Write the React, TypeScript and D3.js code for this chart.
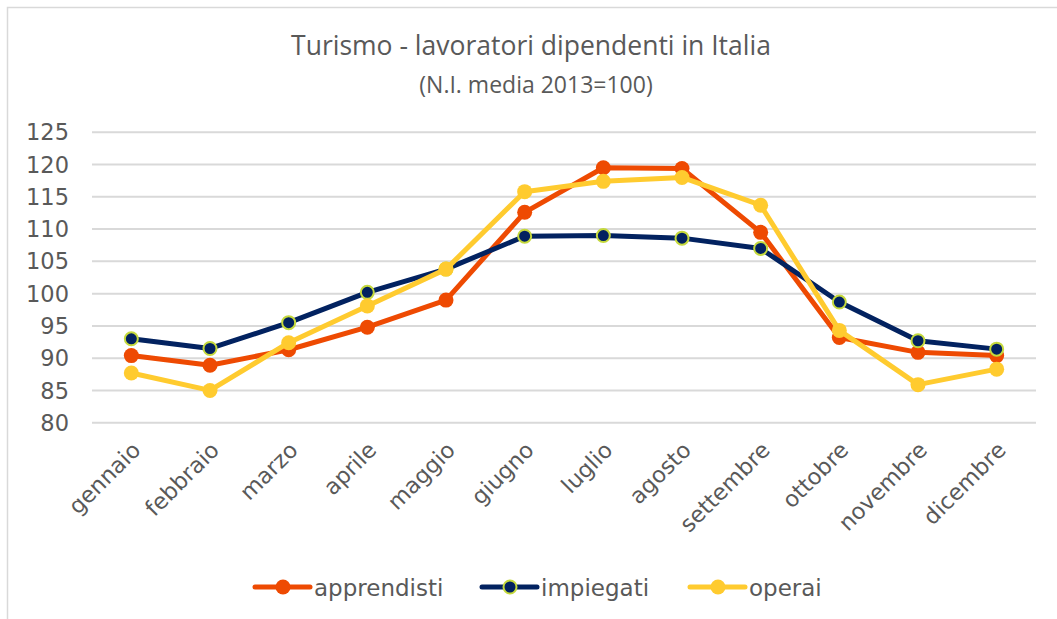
import React from "react";
import * as d3 from "d3";

const months = ["gennaio","febbraio","marzo","aprile","maggio","giugno","luglio","agosto","settembre","ottobre","novembre","dicembre"];
const apprendisti = [90.4, 88.9, 91.3, 94.8, 99.0, 112.6, 119.5, 119.4, 109.5, 93.2, 90.9, 90.4];
const impiegati = [93.0, 91.5, 95.5, 100.2, 103.8, 108.9, 109.0, 108.6, 107.0, 98.7, 92.7, 91.4];
const operai = [87.7, 85.0, 92.4, 98.1, 103.8, 115.8, 117.4, 118.0, 113.7, 94.3, 85.9, 88.3];
const yTicks = [80, 85, 90, 95, 100, 105, 110, 115, 120, 125];

const series = [
  { name: "apprendisti", values: apprendisti, color: "#ee4a02", stroke: "none" },
  { name: "impiegati", values: impiegati, color: "#022260", stroke: "#c5d93c" },
  { name: "operai", values: operai, color: "#ffcb2f", stroke: "none" },
];

export default function App() {
  const W = 1057, H = 619;
  const x = d3.scaleBand().domain(months).range([92, 1036]);
  const y = d3.scaleLinear().domain([80, 125]).range([422.7, 132.3]);
  const cx = (m: string) => (x(m) as number) + x.bandwidth() / 2;
  const line = d3.line<number>().x((_, i) => cx(months[i])).y((v) => y(v));
  const font = "'DejaVu Sans', Verdana, sans-serif";
  const legendItems = [
    { s: series[0], x: 255 },
    { s: series[1], x: 482 },
    { s: series[2], x: 690 },
  ];
  return (
    <svg width={W} height={H} style={{ position: "absolute", left: 0, top: 0, background: "#fff" }}>
      <rect x={7.5} y={7.5} width={1100} height={700} fill="#fff" stroke="#d9d9d9" strokeWidth={1.5} />
      <text x={531} y={55} textAnchor="middle" fontFamily="'Open Sans', sans-serif" fontSize={26.5} fill="#595959">
        Turismo - lavoratori dipendenti in Italia
      </text>
      <text x={536} y={93} textAnchor="middle" fontFamily="'Open Sans', sans-serif" fontSize={23} fill="#595959">
        (N.I. media 2013=100)
      </text>
      {yTicks.map((t) => (
        <g key={t}>
          <line x1={92} x2={1036} y1={y(t)} y2={y(t)} stroke="#d9d9d9" strokeWidth={2} />
          <text x={69} y={y(t)} dy="0.36em" textAnchor="end" fontFamily={font} fontSize={22.5} fill="#595959">
            {t}
          </text>
        </g>
      ))}
      {months.map((m) => (
        <text
          key={m}
          transform={`translate(${cx(m) + 5},${446}) rotate(-45)`}
          dy="0.35em"
          textAnchor="end"
          fontFamily={font}
          fontSize={22.5}
          fill="#595959"
        >
          {m}
        </text>
      ))}
      {series.map((s) => (
        <g key={s.name}>
          <path d={line(s.values) || ""} fill="none" stroke={s.color} strokeWidth={5} strokeLinejoin="round" strokeLinecap="round" />
          {s.values.map((v, i) => (
            <circle
              key={i}
              cx={cx(months[i])}
              cy={y(v)}
              r={s.stroke === "none" ? 7.5 : 6.5}
              fill={s.color}
              stroke={s.stroke === "none" ? "none" : s.stroke}
              strokeWidth={2}
            />
          ))}
        </g>
      ))}
      {legendItems.map(({ s, x: lx }) => (
        <g key={s.name}>
          <line x1={lx} x2={lx + 55} y1={587} y2={587} stroke={s.color} strokeWidth={5} strokeLinecap="round" />
          <circle cx={lx + 28} cy={587} r={s.stroke === "none" ? 7.5 : 6.5} fill={s.color}
            stroke={s.stroke === "none" ? "none" : s.stroke} strokeWidth={2} />
          <text x={lx + 59} y={596} fontFamily={font} fontSize={23} fill="#595959">
            {s.name}
          </text>
        </g>
      ))}
    </svg>
  );
}
